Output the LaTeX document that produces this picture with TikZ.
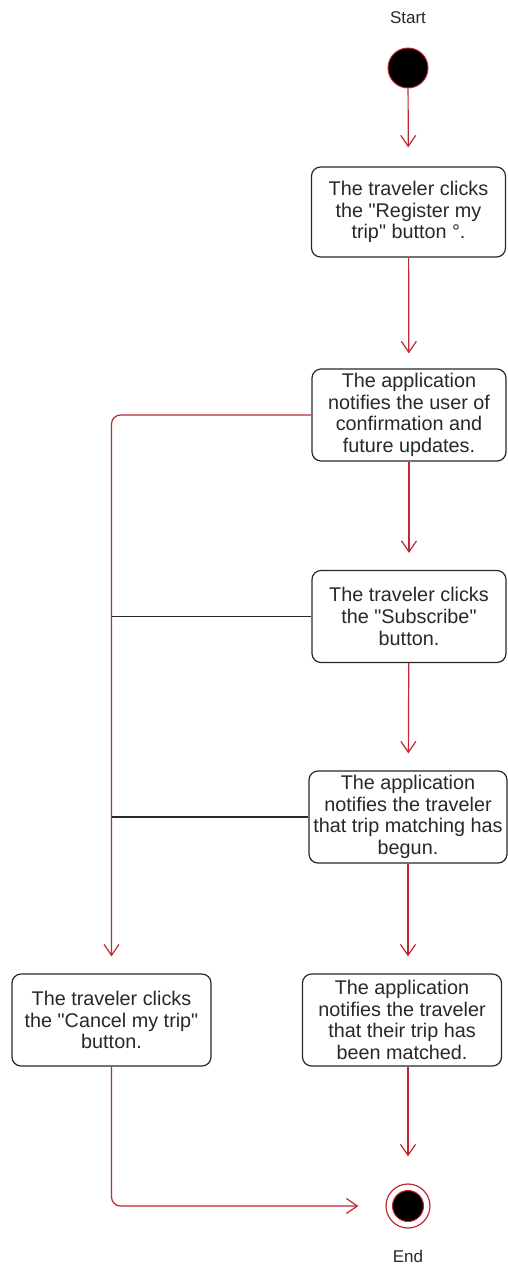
\documentclass[tikz,border=0pt]{standalone}
\usepackage{fontspec}
\setmainfont{Liberation Sans}
\usetikzlibrary{arrows.meta, positioning}
\definecolor{flowred}{RGB}{190,40,50}
\definecolor{inkgray}{RGB}{40,40,40}

\begin{document}
\begin{tikzpicture}[x=1pt, y=-1pt,
      act/.style={draw=inkgray, fill=white, text=inkgray, rounded corners=9pt,
                  align=center, minimum width=194pt, minimum height=92pt,
                  inner sep=2pt, line width=1.2pt,
                  font=\fontsize{19.8}{21.7}\selectfont},
      lbl/.style={text=inkgray, font=\fontsize{17}{20}\selectfont},
      startdot/.style={circle, draw=flowred, fill=black, line width=1pt,
                       minimum size=40pt, inner sep=0pt},
      arr/.style={-{Straight Barb[length=11pt, width=15pt]}, line width=1.2pt,
                  flowred, shorten >=17pt},
      link/.style={line width=1.2pt, inkgray}
    ]
    \useasboundingbox (0,0) rectangle (507,1272);

    \node[lbl] (startlbl) at (408,18) {Start};
    \node[startdot] (start) at (408,68) {};
    \node[act, minimum height=90pt] (register) at (408.5,212) {The traveler clicks \\ the \textquotedbl Register my \\ trip\textquotedbl{} button °.};
    \node[act] (confirm) at (409,415) {The application \\ notifies the user of \\ confirmation and \\ future updates.};
    \node[act] (subscribe) at (409,616.5) {The traveler clicks \\ the \textquotedbl Subscribe\textquotedbl \\ button.};
    \node[act, minimum width=198pt] (begun) at (408,817) {The application \\ notifies the traveler \\ that trip matching has \\ begun.};
    \node[act, minimum width=199pt] (cancel) at (111.5,1020) {The traveler clicks \\ the \textquotedbl Cancel my trip\textquotedbl \\ button.};
    \node[act, minimum width=199pt] (matched) at (402,1020) {The application \\ notifies the traveler \\ that their trip has \\ been matched.};
    \node[startdot, fill=white, line width=1.2pt, minimum size=44pt] (finish) at (408,1206) {};
    \node[startdot, minimum size=31pt] (finishcore) at (finish) {};
    \node[lbl] (endlbl) at (408,1256) {End};

    \draw[arr, shorten >=19pt] (start) -- (register);
    \draw[arr, shorten >=15pt] (register) -- (confirm);
    \draw[arr] (confirm) -- (subscribe);
    \draw[arr] (subscribe) -- (begun);
    \draw[arr, rounded corners=9pt] (confirm.west) -| (cancel.north);
    \draw[link] (subscribe.west) -- (subscribe.west -| cancel.north);
    \draw[link] (begun.west) -- (begun.west -| cancel.north);
    \draw[arr] (begun.south) -- (begun.south |- matched.north);
    \draw[arr, shorten >=27pt] (matched.south -| finish) -- (finish);
    \draw[arr, shorten >=27pt, rounded corners=9pt] (cancel.south) |- (finish);
  \end{tikzpicture}
\end{document}
